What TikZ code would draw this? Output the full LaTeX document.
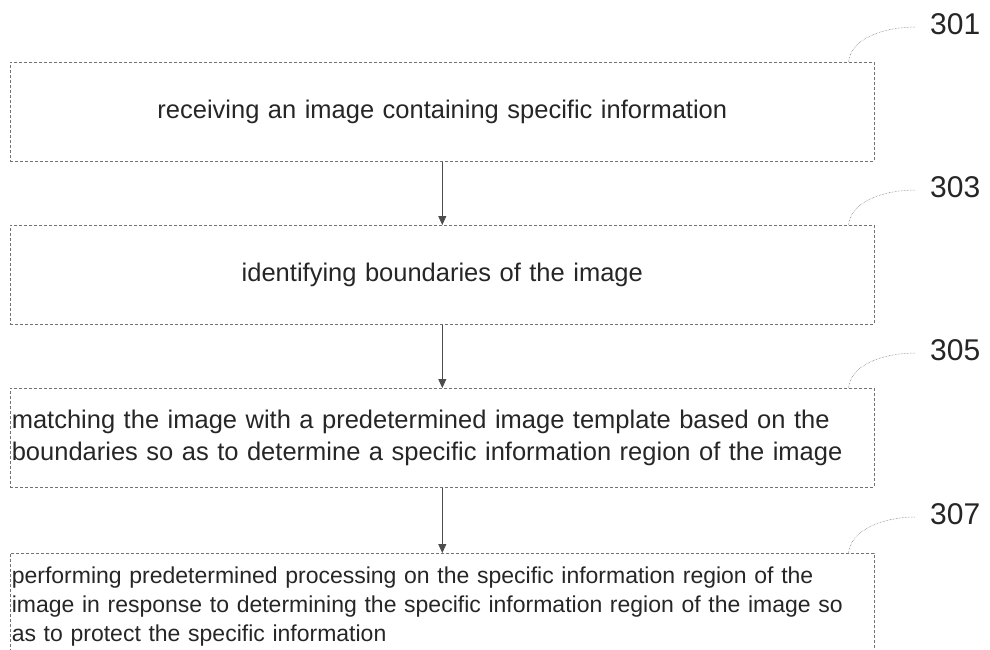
\documentclass[tikz,border=0pt]{standalone}
\usepackage{fontspec}
\setmainfont{Liberation Sans}
\usetikzlibrary{arrows.meta}
\begin{document}
\begin{tikzpicture}[x=1pt,y=-1pt,
  stepbox/.style={draw=black!55, densely dashed, line width=0.6pt, minimum width=864pt, minimum height=99pt, text width=861pt, inner xsep=1.5pt, inner ysep=0pt, anchor=north west, font=\fontsize{25.5}{32}\selectfont, text=black!85},
  smalltext/.style={font=\fontsize{23}{29}\selectfont},
  flow/.style={draw=black!70, line width=0.8pt, -{Triangle[length=9pt,width=8pt]}},
  lead/.style={draw=black!60, densely dotted, line width=0.5pt},
  refnum/.style={font=\fontsize{30}{30}\selectfont, anchor=west, inner sep=0pt, text=black!85}]
\useasboundingbox (0,0) rectangle (990,650);
\clip (0,0) rectangle (990,650);
\node[stepbox, align=center] (b1) at (10,62) {receiving an image containing specific information};
\node[stepbox, align=center] (b2) at (10,225) {identifying boundaries of the image};
\node[stepbox, align=left] (b3) at (10,388) {matching the image with a predetermined image template based on the\\boundaries so as to determine a specific information region of the image};
\node[stepbox, smalltext, align=left, minimum height=106pt] (b4) at (10,553) {performing predetermined processing on the specific information region of the\\image in response to determining the specific information region of the image so\\as to protect the specific information};
\draw[flow] (b1.south) -- (b2.north);
\draw[flow] (b2.south) -- (b3.north);
\draw[flow] (b3.south) -- (b4.north);
\node[refnum] (l1) at (930,24) {301};
\node[refnum] (l2) at (930,187) {303};
\node[refnum] (l3) at (930,350) {305};
\node[refnum] (l4) at (930,514) {307};
\draw[lead] ([xshift=-26pt]b1.north east) .. controls +(2,-24) and +(-30,0) .. ([xshift=-15pt,yshift=-3pt]l1.west);
\draw[lead] ([xshift=-26pt]b2.north east) .. controls +(2,-24) and +(-30,0) .. ([xshift=-15pt,yshift=-3pt]l2.west);
\draw[lead] ([xshift=-26pt]b3.north east) .. controls +(2,-24) and +(-30,0) .. ([xshift=-15pt,yshift=-3pt]l3.west);
\draw[lead] ([xshift=-26pt]b4.north east) .. controls +(2,-24) and +(-30,0) .. ([xshift=-15pt,yshift=-3pt]l4.west);
\end{tikzpicture}
\end{document}
